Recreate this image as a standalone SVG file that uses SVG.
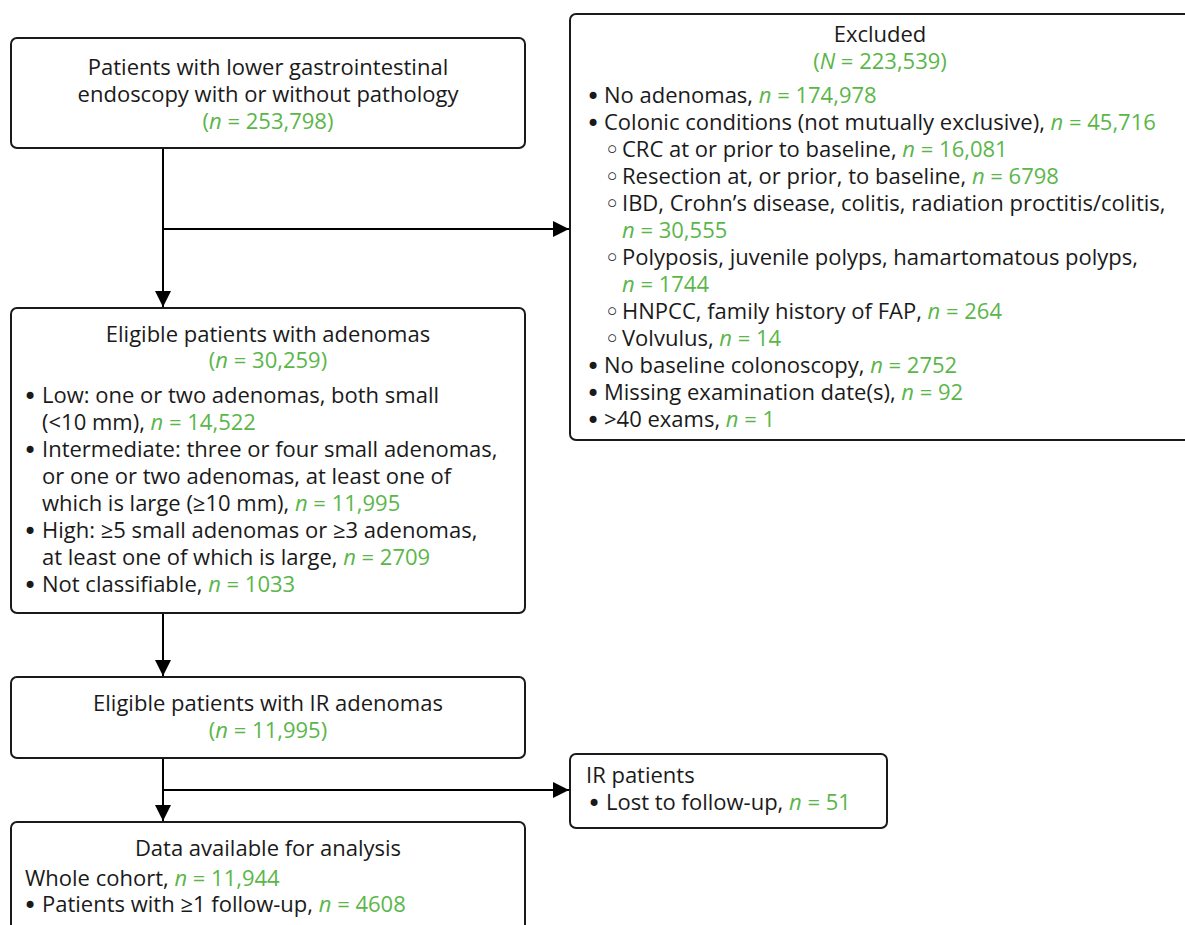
<svg xmlns="http://www.w3.org/2000/svg" width="1185" height="925" viewBox="0 0 1185 925">
<style>
.box{fill:#fff;stroke:#1a1a1a;stroke-width:2}
text{font-family:"Open Sans","Noto Sans","Liberation Sans",sans-serif;font-size:22px;fill:#1a1a1a}
.c{text-anchor:middle}
.g{fill:#5bb64a}
.i{font-style:italic}
.b{font-family:"DejaVu Sans",sans-serif;font-size:24px;text-anchor:middle}
.sb{font-family:"DejaVu Sans",sans-serif;font-size:26px;text-anchor:middle}
.ln{stroke:#000;stroke-width:2;fill:none}
</style>
<defs>
<marker id="ah" viewBox="0 0 10 10" refX="10" refY="5" markerWidth="16" markerHeight="16" markerUnits="userSpaceOnUse" orient="auto">
<path d="M0,0 L10,5 L0,10 Z" fill="#000"/>
</marker>
</defs>
<rect width="1185" height="925" fill="#fff"/>
<g id="connectors">
<line class="ln" x1="163" y1="148" x2="163" y2="307" marker-end="url(#ah)"/>
<line class="ln" x1="163" y1="229" x2="569" y2="229" marker-end="url(#ah)"/>
<line class="ln" x1="163" y1="613" x2="163" y2="676" marker-end="url(#ah)"/>
<line class="ln" x1="163" y1="758" x2="163" y2="821" marker-end="url(#ah)"/>
<line class="ln" x1="163" y1="790" x2="569" y2="790" marker-end="url(#ah)"/>
</g>
<g id="n1">
<rect class="box" x="11" y="38" width="514" height="110" rx="6"/>
<text class="c" x="268" y="75">Patients with lower gastrointestinal</text>
<text class="c" x="268" y="102">endoscopy with or without pathology</text>
<text class="c g" x="268" y="129">(<tspan class="i">n</tspan> = 253,798)</text>
</g>
<g id="excluded">
<rect class="box" x="570" y="14" width="630" height="426" rx="6"/>
<text class="c" x="880" y="42">Excluded</text>
<text class="c g" x="880" y="69">(<tspan class="i">N</tspan> = 223,539)</text>
<text class="b" x="593" y="105">•</text><text x="604" y="103">No adenomas, <tspan class="g"><tspan class="i">n</tspan> = 174,978</tspan></text>
<text class="b" x="593" y="132">•</text><text x="604" y="130">Colonic conditions (not mutually exclusive), <tspan class="g"><tspan class="i">n</tspan> = 45,716</tspan></text>
<text class="sb" x="612" y="159">◦</text><text x="622" y="157">CRC at or prior to baseline, <tspan class="g"><tspan class="i">n</tspan> = 16,081</tspan></text>
<text class="sb" x="612" y="186">◦</text><text x="622" y="184">Resection at, or prior, to baseline, <tspan class="g"><tspan class="i">n</tspan> = 6798</tspan></text>
<text class="sb" x="612" y="213">◦</text><text x="622" y="211">IBD, Crohn’s disease, colitis, radiation proctitis/colitis,</text>
<text class="g" x="622" y="238"><tspan class="i">n</tspan> = 30,555</text>
<text class="sb" x="612" y="267">◦</text><text x="622" y="265">Polyposis, juvenile polyps, hamartomatous polyps,</text>
<text class="g" x="622" y="292"><tspan class="i">n</tspan> = 1744</text>
<text class="sb" x="612" y="321">◦</text><text x="622" y="319">HNPCC, family history of FAP, <tspan class="g"><tspan class="i">n</tspan> = 264</tspan></text>
<text class="sb" x="612" y="348">◦</text><text x="622" y="346">Volvulus, <tspan class="g"><tspan class="i">n</tspan> = 14</tspan></text>
<text class="b" x="593" y="375">•</text><text x="604" y="373">No baseline colonoscopy, <tspan class="g"><tspan class="i">n</tspan> = 2752</tspan></text>
<text class="b" x="593" y="402">•</text><text x="604" y="400">Missing examination date(s), <tspan class="g"><tspan class="i">n</tspan> = 92</tspan></text>
<text class="b" x="593" y="429">•</text><text x="604" y="427">&gt;40 exams, <tspan class="g"><tspan class="i">n</tspan> = 1</tspan></text>
</g>
<g id="n2">
<rect class="box" x="11" y="308" width="514" height="305" rx="6"/>
<text class="c" x="268" y="342">Eligible patients with adenomas</text>
<text class="c g" x="268" y="368">(<tspan class="i">n</tspan> = 30,259)</text>
<text class="b" x="30" y="405">•</text><text x="42" y="403">Low: one or two adenomas, both small</text>
<text x="42" y="430">(&lt;10 mm), <tspan class="g"><tspan class="i">n</tspan> = 14,522</tspan></text>
<text class="b" x="30" y="459">•</text><text x="42" y="457">Intermediate: three or four small adenomas,</text>
<text x="42" y="484">or one or two adenomas, at least one of</text>
<text x="42" y="511">which is large (≥10 mm), <tspan class="g"><tspan class="i">n</tspan> = 11,995</tspan></text>
<text class="b" x="30" y="540">•</text><text x="42" y="538">High: ≥5 small adenomas or ≥3 adenomas,</text>
<text x="42" y="565">at least one of which is large, <tspan class="g"><tspan class="i">n</tspan> = 2709</tspan></text>
<text class="b" x="30" y="594">•</text><text x="42" y="592">Not classifiable, <tspan class="g"><tspan class="i">n</tspan> = 1033</tspan></text>
</g>
<g id="n3">
<rect class="box" x="11" y="677" width="514" height="81" rx="6"/>
<text class="c" x="268" y="711">Eligible patients with IR adenomas</text>
<text class="c g" x="268" y="738">(<tspan class="i">n</tspan> = 11,995)</text>
</g>
<g id="irpatients">
<rect class="box" x="570" y="754" width="317" height="74" rx="6"/>
<text x="586" y="783">IR patients</text>
<text class="b" x="594" y="812">•</text><text x="606" y="810">Lost to follow-up, <tspan class="g"><tspan class="i">n</tspan> = 51</tspan></text>
</g>
<g id="n4">
<rect class="box" x="11" y="822" width="514" height="120" rx="6"/>
<text class="c" x="268" y="856">Data available for analysis</text>
<text x="25" y="886">Whole cohort, <tspan class="g"><tspan class="i">n</tspan> = 11,944</tspan></text>
<text class="b" x="30" y="914">•</text><text x="42" y="912">Patients with ≥1 follow-up, <tspan class="g"><tspan class="i">n</tspan> = 4608</tspan></text>
</g>
</svg>
